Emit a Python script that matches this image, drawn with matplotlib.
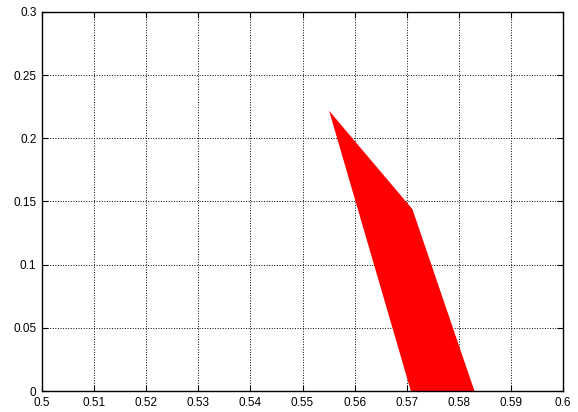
import matplotlib
matplotlib.use("Agg")
import matplotlib.pyplot as plt
from matplotlib.ticker import FormatStrFormatter, FuncFormatter

plt.rcParams["font.family"] = ["Liberation Sans", "DejaVu Sans"]

# polygon outline (x, y)
poly_x = [0.5551, 0.5711, 0.5830, 0.5708]
poly_y = [0.2219, 0.1439, 0.0, 0.0]

xticks = [0.5, 0.51, 0.52, 0.53, 0.54, 0.55, 0.56, 0.57, 0.58, 0.59, 0.6]
yticks = [0, 0.05, 0.1, 0.15, 0.2, 0.25, 0.3]

fig = plt.figure(figsize=(5.78, 4.12), dpi=100)
ax = fig.add_axes([42 / 578, 21 / 412, 521 / 578, 379 / 412])

ax.fill(poly_x, poly_y, color="#ff0000", linewidth=0)

ax.set_xlim(0.5, 0.6)
ax.set_ylim(0, 0.3)
ax.set_xticks(xticks)
ax.set_yticks(yticks)
fmt = FuncFormatter(lambda v, p: "%g" % round(v, 4))
ax.xaxis.set_major_formatter(fmt)
ax.yaxis.set_major_formatter(fmt)
ax.tick_params(direction="in", length=4, width=0.8, labelsize=8.5,
               top=True, right=True, pad=4)
ax.grid(True, color="black", linestyle=":", linewidth=0.7)
ax.set_axisbelow(True)
for s in ax.spines.values():
    s.set_linewidth(1.0)

fig.savefig("out.png", dpi=100)
